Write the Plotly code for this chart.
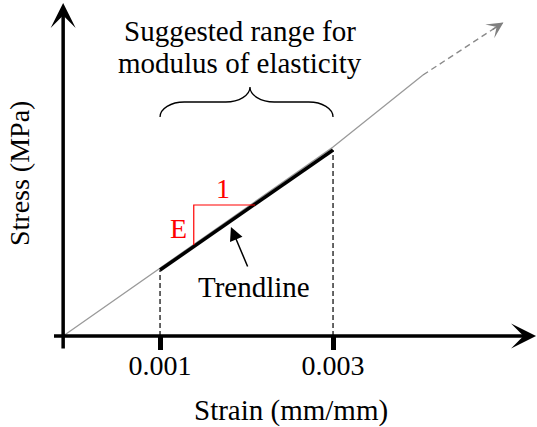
import plotly.graph_objects as go

# ---------------- data ----------------
origin_strain = -0.00012          # where the drawn axes cross
tick_vals = [0.001, 0.003]
tick_text = ["0.001", "0.003"]

curve_strain = [origin_strain, 0.001, 0.003, 0.00404]
curve_stress = [0, 68, 189, 261]
curve_ext_strain = [0.00404, 0.00496]
curve_ext_stress = [261, 313]

trend_strain = [0.001, 0.003]
trend_stress = [66, 186]

tri_strain = [0.00139, 0.00139, 0.00210]
tri_stress = [91, 131, 131]

brace_strain = [0.001, 0.003]
brace_mid = 0.00204
brace_levels = [219, 234, 249]    # end, bar, tip

arrow_tip = [0.00182, 109]
arrow_tail = [0.00202, 68]

FONT = "Liberation Serif, Times New Roman, serif"

fig = go.Figure()

# gray stress-strain line (solid + dashed extension)
fig.add_trace(go.Scatter(x=curve_strain, y=curve_stress, mode="lines",
                         line=dict(color="#9a9a9a", width=1.3), hoverinfo="skip"))
fig.add_trace(go.Scatter(x=curve_ext_strain, y=curve_ext_stress, mode="lines",
                         line=dict(color="#8a8a8a", width=1.4, dash="6px,4px"),
                         hoverinfo="skip"))

# dashed verticals
fig.add_trace(go.Scatter(x=[trend_strain[0], trend_strain[0], None, trend_strain[1], trend_strain[1]],
                         y=[0, trend_stress[0], None, 0, trend_stress[1]], mode="lines",
                         line=dict(color="black", width=1.2, dash="5px,3px"), hoverinfo="skip"))

# trendline
fig.add_trace(go.Scatter(x=trend_strain, y=trend_stress, mode="lines",
                         line=dict(color="black", width=3.5), hoverinfo="skip"))

# red slope triangle
fig.add_trace(go.Scatter(x=tri_strain, y=tri_stress, mode="lines",
                         line=dict(color="#ff0000", width=1.2), hoverinfo="skip"))

# brace
xl, xr = brace_strain
ye, yb, yt = brace_levels
rx = 0.00028
dy = yb - ye
k = 0.552
p = []
p.append(f"M{xl},{ye}")
p.append(f"C{xl},{ye + k*dy} {xl + rx - k*rx},{yb} {xl + rx},{yb}")
p.append(f"L{brace_mid - rx},{yb}")
p.append(f"C{brace_mid - rx + k*rx},{yb} {brace_mid},{yt - k*dy} {brace_mid},{yt}")
p.append(f"C{brace_mid},{yt - k*dy} {brace_mid + rx - k*rx},{yb} {brace_mid + rx},{yb}")
p.append(f"L{xr - rx},{yb}")
p.append(f"C{xr - rx + k*rx},{yb} {xr},{ye + k*dy} {xr},{ye}")
fig.add_shape(type="path", path=" ".join(p), xref="x", yref="y",
              line=dict(color="black", width=1.3))

ann = []
# axes with arrowheads
ann.append(dict(x=0.005347, y=0, ax=-0.000243, ay=0, xref="x", yref="y", axref="x", ayref="y",
                showarrow=True, arrowhead=3, arrowwidth=3.5, arrowsize=1.19, arrowcolor="black", text=""))
ann.append(dict(x=origin_strain, y=333, ax=origin_strain, ay=-14, xref="x", yref="y", axref="x", ayref="y",
                showarrow=True, arrowhead=3, arrowwidth=3.5, arrowsize=1.19, arrowcolor="black", text=""))
# gray arrow head
tx, ty = curve_ext_strain[-1] + 0.00001, curve_ext_stress[-1] + 0.5
bx = tx - 0.15 * (tx - curve_ext_strain[0])
by = ty - 0.15 * (ty - curve_ext_stress[0])
ann.append(dict(x=tx, y=ty, ax=bx, ay=by, xref="x", yref="y", axref="x", ayref="y",
                showarrow=True, arrowhead=3, arrowwidth=1.3, arrowsize=2.1, arrowcolor="#808080", text=""))
# trendline pointer
ann.append(dict(x=arrow_tip[0], y=arrow_tip[1], ax=arrow_tail[0], ay=arrow_tail[1],
                xref="x", yref="y", axref="x", ayref="y",
                showarrow=True, arrowhead=2, arrowwidth=1.5, arrowsize=1.8, arrowcolor="black", text=""))

def txt(s, x, y, color="black", angle=0, size=29):
    return dict(text=s, x=x, y=y, xref="x", yref="y", showarrow=False,
                xanchor="center", yanchor="middle", textangle=angle,
                font=dict(family=FONT, size=size, color=color))

ann.append(txt("Suggested range for", 0.001925, 305))
ann.append(txt("modulus of elasticity", 0.001925, 273))
ann.append(txt("Trendline", 0.002087, 49))
ann.append(txt("1", 0.001728, 148, color="#ff0000", size=28))
ann.append(txt("E", 0.001208, 108, color="#ff0000", size=28))
ann.append(txt("Strain (mm/mm)", 0.002514, -74))
ann.append(txt("Stress (MPa)", -0.00063, 162, angle=-90, size=28))

fig.update_layout(
    template="none",
    width=537, height=427, autosize=False,
    margin=dict(l=0, r=0, t=0, b=0, pad=0),
    paper_bgcolor="white", plot_bgcolor="white",
    showlegend=False,
    annotations=ann,
    xaxis=dict(range=[-0.00085, 0.005358], showgrid=False, zeroline=False, showline=False,
               anchor="free", position=91/427, automargin=False,
               tickmode="array", tickvals=tick_vals, ticktext=tick_text,
               ticks="outside", ticklen=13, tickwidth=5, tickcolor="black",
               ticklabelstandoff=-9,
               tickfont=dict(family=FONT, size=28, color="black"), fixedrange=True),
    yaxis=dict(range=[-91, 336], visible=False, automargin=False, fixedrange=True),
)

fig.write_html("out.html", config={"displayModeBar": False},
               post_script="document.body.style.margin='0';document.body.style.padding='0';"
                           "document.body.style.overflow='hidden';")
